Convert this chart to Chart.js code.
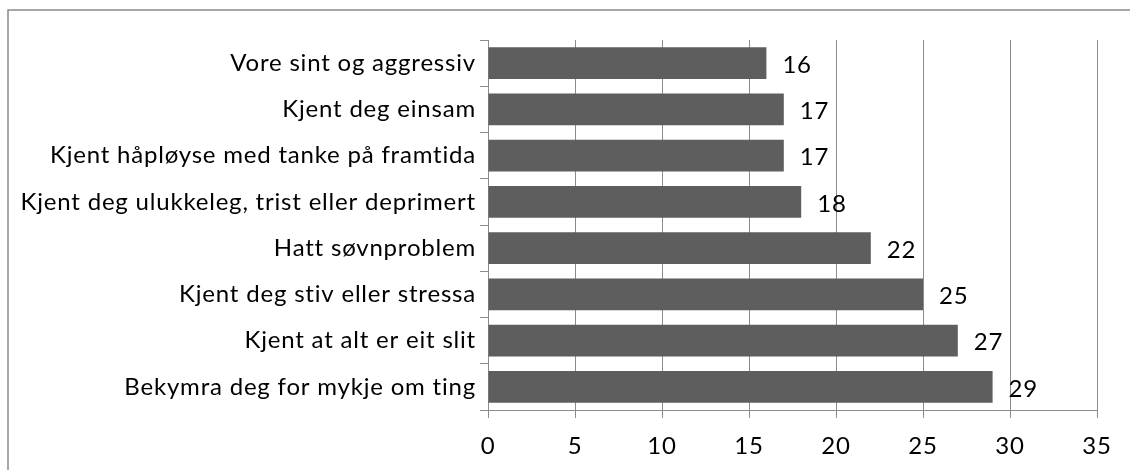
<!DOCTYPE html>
<html lang="nn">
<head>
  <meta charset="UTF-8" />
  <title>Plager siste veke</title>
  <script src="https://cdn.jsdelivr.net/npm/chart.js"></script>
  <style>
    html, body { margin: 0; padding: 0; background: #fff; }
    #wrap { position: relative; width: 1130px; height: 470px; }
  </style>
</head>
<body>
  <div id="wrap">
    <canvas id="plager" width="1130" height="470"></canvas>
  </div>

  <script>
    const categories = [
      "Vore sint og aggressiv",
      "Kjent deg einsam",
      "Kjent håpløyse med tanke på framtida",
      "Kjent deg ulukkeleg, trist eller deprimert",
      "Hatt søvnproblem",
      "Kjent deg stiv eller stressa",
      "Kjent at alt er eit slit",
      "Bekymra deg for mykje om ting"
    ];
    const values = [16, 17, 17, 18, 22, 25, 27, 29];
    const xTicks = [0, 5, 10, 15, 20, 25, 30, 35];

    const FONT = "Lato, sans-serif";
    const FONT_SIZE = 24;
    const GRID = "#8c8c8c";

    // a little tracking on all canvas text (also turns off Lato's ligatures)
    const tracking = {
      id: "tracking",
      beforeLayout(chart) { chart.ctx.letterSpacing = "0.8px"; },
      beforeDraw(chart) { chart.ctx.letterSpacing = "0.8px"; }
    };

    // outer frame (left + top edge only)
    const framePlugin = {
      id: "frame",
      beforeDraw(chart) {
        const ctx = chart.ctx;
        ctx.save();
        ctx.strokeStyle = "#8a8a8a";
        ctx.lineWidth = 1.5;
        ctx.beginPath();
        ctx.moveTo(8, 470);
        ctx.lineTo(8, 10);
        ctx.lineTo(1130, 10);
        ctx.stroke();
        ctx.restore();
      }
    };

    // value labels to the right of each bar
    const valueLabels = {
      id: "valueLabels",
      afterDatasetsDraw(chart) {
        const ctx = chart.ctx;
        const xs = chart.scales.x, ys = chart.scales.y;
        ctx.save();
        ctx.font = FONT_SIZE + "px " + FONT;
        ctx.fillStyle = "#000";
        ctx.textBaseline = "middle";
        values.forEach((v, i) => {
          ctx.fillText(String(v), xs.getPixelForValue(v) + 16, ys.getPixelForValue(i) + 2);
        });
        ctx.restore();
      }
    };

    new Chart(document.getElementById("plager"), {
      type: "bar",
      data: {
        labels: categories,
        datasets: [{
          data: values,
          backgroundColor: "#5e5e5e",
          barPercentage: 0.69,
          categoryPercentage: 1.0
        }]
      },
      options: {
        indexAxis: "y",
        responsive: false,
        animation: false,
        layout: { padding: { left: 0, right: 33, top: 40, bottom: 0 } },
        plugins: { legend: { display: false }, tooltip: { enabled: false } },
        scales: {
          x: {
            min: 0,
            max: 35,
            afterBuildTicks(scale) { scale.ticks = xTicks.map(v => ({ value: v })); },
            afterFit(scale) { scale.height = 60; },
            grid: { color: GRID, lineWidth: 1, tickLength: 8, drawTicks: true },
            border: { color: GRID, width: 1 },
            ticks: { color: "#000", font: { family: FONT, size: FONT_SIZE }, padding: 14 }
          },
          y: {
            afterFit(scale) { scale.width = 488; },
            grid: { drawOnChartArea: false, drawTicks: true, tickLength: 8, color: GRID, offset: true },
            border: { color: GRID, width: 1 },
            ticks: { color: "#000", font: { family: FONT, size: FONT_SIZE }, padding: 4 }
          }
        }
      },
      plugins: [tracking, framePlugin, valueLabels]
    });
  </script>
</body>
</html>
